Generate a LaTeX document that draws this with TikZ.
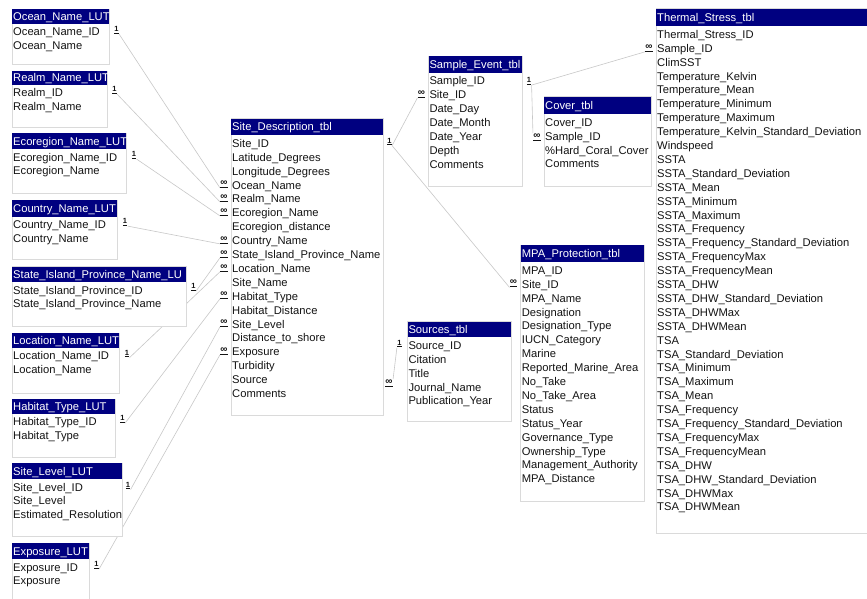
\documentclass[tikz,border=0pt]{standalone}
\usepackage{fontspec}
\setmainfont{Liberation Sans}
\usetikzlibrary{backgrounds}
\definecolor{navy}{RGB}{0,0,128}
\definecolor{boxgray}{RGB}{218,218,218}
\definecolor{linegray}{RGB}{200,200,200}
\definecolor{txt}{RGB}{20,20,20}
\tikzset{
  tblbox/.style={draw=boxgray, fill=white, line width=0.8pt, inner sep=0pt, outer sep=0pt},
  rowtxt/.style={inner sep=0pt, text=txt, font=\fontsize{11.2}{13}\selectfont},
  hdrtxt/.style={inner sep=0pt, text=white, font=\fontsize{11.2}{13}\selectfont},
  onesym/.style={inner sep=0.3pt, text=txt, font=\fontsize{7.5}{7.5}\selectfont\bfseries},
  manysym/.style={inner sep=0.3pt, text=txt, font=\fontsize{10}{10}\selectfont\bfseries},
  conn/.style={draw=linegray, line width=0.6pt},
}
% id, L, T, R, B, header height, title, rows
\newcommand\dbtab[8]{%
  \node[tblbox, anchor=north west, minimum width={(#4-#2)*1pt}, minimum height={(#5-#3)*1pt}] (#1) at (#2,#3) {};
  \fill[navy] (#2+0.4,#3+0.4) rectangle (#4-0.4,#3+#6);
  \node[hdrtxt, anchor=base west] (#1-h) at (#2+1,#3+#6/2+4) {#7};
  \foreach \r [count=\i from 0] in {#8} {\node[rowtxt, anchor=base west] (#1-\i) at (#2+1,#3+#6+12+13.9*\i) {\r};}
}
\newcommand\onemark[2]{\node[onesym] (#1) at (#2) {\underline{1}};}
\newcommand\manymark[2]{\node[manysym] (#1) at (#2) {\underline{∞}};}
\begin{document}
\begin{tikzpicture}[x=1pt,y=-1pt]
\clip (0,0) rectangle (867,598);

% lookup tables
\dbtab{ocean}{12}{9}{109}{64}{14.5}{Ocean\_Name\_LUT}{Ocean\_Name\_ID,Ocean\_Name}
\dbtab{realm}{12}{71}{107}{127}{13.5}{Realm\_Name\_LUT}{Realm\_ID,Realm\_Name}
\dbtab{eco}{12}{133}{126}{193}{16}{Ecoregion\_Name\_LUT}{Ecoregion\_Name\_ID,Ecoregion\_Name}
\dbtab{country}{12}{200}{117}{259}{16.5}{Country\_Name\_LUT}{Country\_Name\_ID,Country\_Name}
\dbtab{state}{12}{266.5}{186}{326}{15.5}{State\_Island\_Province\_Name\_LU}{State\_Island\_Province\_ID,State\_Island\_Province\_Name}
\dbtab{loc}{12}{333}{119}{393}{14.5}{Location\_Name\_LUT}{Location\_Name\_ID,Location\_Name}
\dbtab{hab}{12}{399}{115}{457}{14.5}{Habitat\_Type\_LUT}{Habitat\_Type\_ID,Habitat\_Type}
\dbtab{slev}{12}{463}{122}{536}{16}{Site\_Level\_LUT}{Site\_Level\_ID,Site\_Level,Estimated\_Resolution}
\dbtab{expo}{12}{543}{89}{610}{16}{Exposure\_LUT}{Exposure\_ID,Exposure}

% main tables
\dbtab{site}{231}{118.3}{383.3}{415}{17}{Site\_Description\_tbl}{Site\_ID,Latitude\_Degrees,Longitude\_Degrees,Ocean\_Name,Realm\_Name,Ecoregion\_Name,Ecoregion\_distance,Country\_Name,State\_Island\_Province\_Name,Location\_Name,Site\_Name,Habitat\_Type,Habitat\_Distance,Site\_Level,Distance\_to\_shore,Exposure,Turbidity,Source,Comments}
\dbtab{sample}{428.3}{56}{522.7}{186}{16.7}{Sample\_Event\_tbl}{Sample\_ID,Site\_ID,Date\_Day,Date\_Month,Date\_Year,Depth,Comments}
\dbtab{cover}{544}{96.7}{651.7}{186}{17.5}{Cover\_tbl}{Cover\_ID,Sample\_ID,\%Hard\_Coral\_Cover,Comments}
\dbtab{mpa}{520.7}{245}{644.3}{501.7}{17.3}{MPA\_Protection\_tbl}{MPA\_ID,Site\_ID,MPA\_Name,Designation,Designation\_Type,IUCN\_Category,Marine,Reported\_Marine\_Area,No\_Take,No\_Take\_Area,Status,Status\_Year,Governance\_Type,Ownership\_Type,Management\_Authority,MPA\_Distance}
\dbtab{src}{407.3}{321.7}{511.7}{421.7}{15.6}{Sources\_tbl}{Source\_ID,Citation,Title,Journal\_Name,Publication\_Year}
\dbtab{therm}{656}{8.3}{890}{533}{18}{Thermal\_Stress\_tbl}{Thermal\_Stress\_ID,Sample\_ID,ClimSST,Temperature\_Kelvin,Temperature\_Mean,Temperature\_Minimum,Temperature\_Maximum,Temperature\_Kelvin\_Standard\_Deviation,Windspeed,SSTA,SSTA\_Standard\_Deviation,SSTA\_Mean,SSTA\_Minimum,SSTA\_Maximum,SSTA\_Frequency,SSTA\_Frequency\_Standard\_Deviation,SSTA\_FrequencyMax,SSTA\_FrequencyMean,SSTA\_DHW,SSTA\_DHW\_Standard\_Deviation,SSTA\_DHWMax,SSTA\_DHWMean,TSA,TSA\_Standard\_Deviation,TSA\_Minimum,TSA\_Maximum,TSA\_Mean,TSA\_Frequency,TSA\_Frequency\_Standard\_Deviation,TSA\_FrequencyMax,TSA\_FrequencyMean,TSA\_DHW,TSA\_DHW\_Standard\_Deviation,TSA\_DHWMax,TSA\_DHWMean}

% "one" marks
\onemark{o1}{116.5,30}
\onemark{r1}{114.5,90}
\onemark{e1}{134,155}
\onemark{c1}{125,222}
\onemark{s1}{193.5,287}
\onemark{l1}{127,353.5}
\onemark{h1}{122.5,419}
\onemark{sl1}{128,485.5}
\onemark{x1}{96.5,565}
\onemark{sd1}{389.5,141.5}
\onemark{se1}{529,81}
\onemark{so1}{399.5,343.5}

% "many" marks
\manymark{oM}{224,184}
\manymark{rM}{224,198}
\manymark{eM}{224,212}
\manymark{cM}{224,240}
\manymark{sM}{224,254}
\manymark{lM}{224,268}
\manymark{hM}{224,295}
\manymark{slM}{224,323}
\manymark{xM}{224,351}
\manymark{seM}{421.5,94}
\manymark{cvM}{537,137}
\manymark{mpM}{513.5,283.5}
\manymark{thM}{649,48}
\manymark{soM}{389,383}

\begin{pgfonlayer}{background}
\fill[white] (0,0) rectangle (867,598);
\draw[conn] (o1.south east) -- (oM.south west);
\draw[conn] (r1.south east) -- (rM.south west);
\draw[conn] (e1.south east) -- (eM.south west);
\draw[conn] (c1.south east) -- (cM.south west);
\draw[conn] (s1.south east) -- (sM.south west);
\draw[conn] (l1.south east) -- (lM.south west);
\draw[conn] (h1.south east) -- (hM.south west);
\draw[conn] (sl1.south east) -- (slM.south west);
\draw[conn] (x1.south east) -- (xM.south west);
\draw[conn] (sd1.south east) -- (seM.south west);
\draw[conn] (sd1.south east) -- (mpM.south west);
\draw[conn] (se1.south east) -- (cvM.north west);
\draw[conn] (se1.south east) -- (thM.south west);
\draw[conn] (so1.south west) -- (soM.north east);
\end{pgfonlayer}
\end{tikzpicture}
\end{document}
